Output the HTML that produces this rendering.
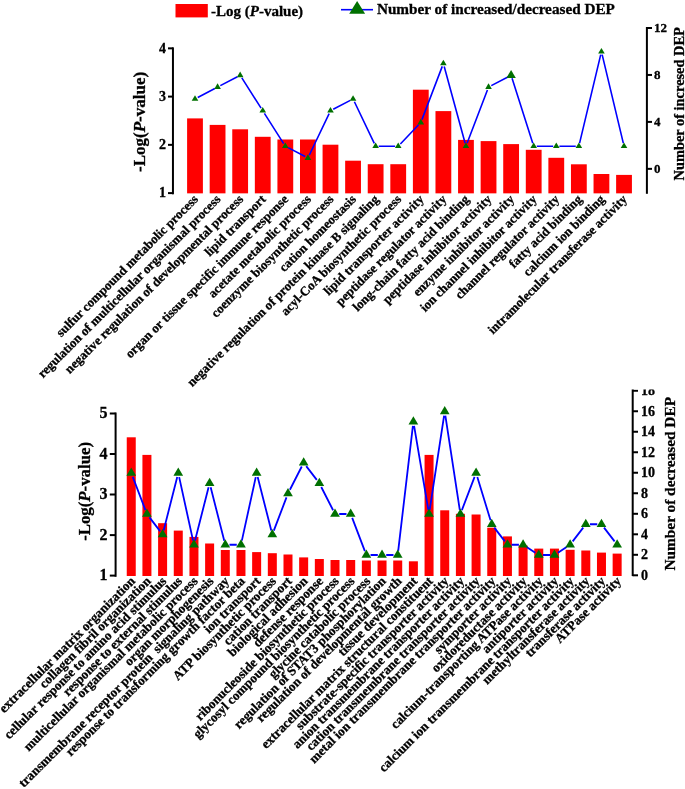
<!DOCTYPE html>
<html><head><meta charset="utf-8"><title>GO enrichment</title>
<style>html,body{margin:0;padding:0;background:#fff}body{width:685px;height:789px;overflow:hidden}svg{display:block;will-change:transform}text{font-family:"Liberation Serif",serif;font-weight:bold;fill:#000;stroke:#000;stroke-width:.3px}</style></head><body>
<svg width="685" height="789" viewBox="0 0 685 789">
<rect width="685" height="789" fill="#fff"/>
<rect x="175.5" y="4.0" width="32.3" height="13.4" fill="#ff0000"/>
<text x="211.0" y="15.8" font-size="15">-Log (<tspan font-style="italic">P</tspan>-value)</text>
<line x1="341" y1="9.7" x2="373" y2="9.7" stroke="#0000ff" stroke-width="1.6"/>
<polygon points="357.15,0.9 349.2,13.8 365.1,13.8" fill="#007000"/>
<text x="376.9" y="14.4" font-size="15.22">Number of increased/decreased DEP</text>
<g id="top">
<rect x="187.10" y="118.4" width="15.8" height="74.95" fill="#ff0000"/>
<rect x="209.68" y="124.9" width="15.8" height="68.45" fill="#ff0000"/>
<rect x="232.26" y="129.3" width="15.8" height="64.05" fill="#ff0000"/>
<rect x="254.84" y="136.8" width="15.8" height="56.55" fill="#ff0000"/>
<rect x="277.42" y="139.5" width="15.8" height="53.85" fill="#ff0000"/>
<rect x="300.00" y="139.5" width="15.8" height="53.85" fill="#ff0000"/>
<rect x="322.58" y="144.7" width="15.8" height="48.65" fill="#ff0000"/>
<rect x="345.16" y="160.7" width="15.8" height="32.65" fill="#ff0000"/>
<rect x="367.74" y="164.2" width="15.8" height="29.15" fill="#ff0000"/>
<rect x="390.32" y="164.2" width="15.8" height="29.15" fill="#ff0000"/>
<rect x="412.90" y="89.7" width="15.8" height="103.65" fill="#ff0000"/>
<rect x="435.48" y="111.1" width="15.8" height="82.25" fill="#ff0000"/>
<rect x="458.06" y="139.9" width="15.8" height="53.45" fill="#ff0000"/>
<rect x="480.64" y="141.1" width="15.8" height="52.25" fill="#ff0000"/>
<rect x="503.22" y="144.1" width="15.8" height="49.25" fill="#ff0000"/>
<rect x="525.80" y="149.8" width="15.8" height="43.55" fill="#ff0000"/>
<rect x="548.38" y="157.8" width="15.8" height="35.55" fill="#ff0000"/>
<rect x="570.96" y="164.3" width="15.8" height="29.05" fill="#ff0000"/>
<rect x="593.54" y="174.0" width="15.8" height="19.35" fill="#ff0000"/>
<rect x="616.12" y="174.9" width="15.8" height="18.45" fill="#ff0000"/>
<path fill="none" stroke="#0000ff" stroke-width="1.6" d="M197.75,97.48 L214.83,88.54 M220.33,85.66 L237.41,76.72 M241.83,77.89 L261.07,108.13 M264.41,113.35 L283.65,143.59 M288.07,147.64 L305.15,156.58 M309.24,155.22 L329.14,113.54 M333.23,109.30 L350.31,100.36 M354.40,101.72 L374.30,143.40 M378.74,146.20 L395.12,146.20 M400.36,143.96 L418.66,124.80 M421.91,119.66 L442.27,66.36 M444.20,66.45 L465.14,143.21 M467.07,143.30 L487.43,90.00 M491.29,85.66 L508.37,76.72 M512.06,78.23 L532.76,143.25 M536.80,146.20 L553.18,146.20 M559.38,146.20 L575.76,146.20 M579.58,143.18 L600.72,54.66 M602.16,54.66 L623.30,143.18"/>
<polygon points="195.00,95.19 191.70,100.79 198.30,100.79" fill="#007000"/>
<polygon points="217.58,83.37 214.28,88.97 220.88,88.97" fill="#007000"/>
<polygon points="240.16,71.55 236.86,77.15 243.46,77.15" fill="#007000"/>
<polygon points="262.74,107.01 259.44,112.61 266.04,112.61" fill="#007000"/>
<polygon points="285.32,142.47 282.02,148.07 288.62,148.07" fill="#007000"/>
<polygon points="307.90,154.29 304.60,159.89 311.20,159.89" fill="#007000"/>
<polygon points="330.48,107.01 327.18,112.61 333.78,112.61" fill="#007000"/>
<polygon points="353.06,95.19 349.76,100.79 356.36,100.79" fill="#007000"/>
<polygon points="375.64,142.47 372.34,148.07 378.94,148.07" fill="#007000"/>
<polygon points="398.22,142.47 394.92,148.07 401.52,148.07" fill="#007000"/>
<polygon points="420.80,118.83 417.50,124.43 424.10,124.43" fill="#007000"/>
<polygon points="443.38,59.73 440.08,65.33 446.68,65.33" fill="#007000"/>
<polygon points="465.96,142.47 462.66,148.07 469.26,148.07" fill="#007000"/>
<polygon points="488.54,83.37 485.24,88.97 491.84,88.97" fill="#007000"/>
<polygon points="511.12,69.95 506.42,77.95 515.82,77.95" fill="#007000"/>
<polygon points="533.70,142.47 530.40,148.07 537.00,148.07" fill="#007000"/>
<polygon points="556.28,142.47 552.98,148.07 559.58,148.07" fill="#007000"/>
<polygon points="578.86,142.47 575.56,148.07 582.16,148.07" fill="#007000"/>
<polygon points="601.44,47.91 598.14,53.51 604.74,53.51" fill="#007000"/>
<polygon points="624.02,142.47 620.72,148.07 627.32,148.07" fill="#007000"/>
<path d="M172.95,47.35 V194.3" stroke="#000" stroke-width="2" fill="none"/>
<line x1="168" y1="48.35" x2="172.95" y2="48.35" stroke="#000" stroke-width="2"/>
<text x="166.0" y="52.65" font-size="14" text-anchor="end">4</text>
<line x1="168" y1="96.60" x2="172.95" y2="96.60" stroke="#000" stroke-width="2"/>
<text x="166.0" y="100.90" font-size="14" text-anchor="end">3</text>
<line x1="168" y1="144.85" x2="172.95" y2="144.85" stroke="#000" stroke-width="2"/>
<text x="166.0" y="149.15" font-size="14" text-anchor="end">2</text>
<line x1="168" y1="193.10" x2="172.95" y2="193.10" stroke="#000" stroke-width="2"/>
<text x="166.0" y="197.40" font-size="14" text-anchor="end">1</text>
<text transform="translate(145.3,121.9) rotate(-90)" font-size="17" text-anchor="middle">-Log(<tspan font-style="italic">P</tspan>-value)</text>
<path d="M646.9,27.0 V193.8" stroke="#000" stroke-width="2" fill="none"/>
<line x1="646.9" y1="28.00" x2="652" y2="28.00" stroke="#000" stroke-width="2"/>
<text x="654.0" y="32.20" font-size="13">12</text>
<line x1="646.9" y1="74.95" x2="652" y2="74.95" stroke="#000" stroke-width="2"/>
<text x="654.0" y="79.15" font-size="13">8</text>
<line x1="646.9" y1="121.90" x2="652" y2="121.90" stroke="#000" stroke-width="2"/>
<text x="654.0" y="126.10" font-size="13">4</text>
<line x1="646.9" y1="168.85" x2="652" y2="168.85" stroke="#000" stroke-width="2"/>
<text x="654.0" y="173.05" font-size="13">0</text>
<text transform="translate(683.8,103.8) rotate(-90)" font-size="14.4" text-anchor="middle">Number of incresed DEP</text>
<text transform="translate(196.00,197.2) rotate(-45)" y="4.0" font-size="12.88" text-anchor="end">sulfur compound metabolic process</text>
<text transform="translate(218.58,197.2) rotate(-45)" y="4.0" font-size="12.88" text-anchor="end">regulation of multicellular organismal process</text>
<text transform="translate(241.16,197.2) rotate(-45)" y="4.0" font-size="12.88" text-anchor="end">negative regulation of developmental process</text>
<text transform="translate(263.74,197.2) rotate(-45)" y="4.0" font-size="12.88" text-anchor="end">lipid transport</text>
<text transform="translate(286.32,197.2) rotate(-45)" y="4.0" font-size="12.88" text-anchor="end">organ or tissue specific immune response</text>
<text transform="translate(308.90,197.2) rotate(-45)" y="4.0" font-size="12.88" text-anchor="end">acetate metabolic process</text>
<text transform="translate(331.48,197.2) rotate(-45)" y="4.0" font-size="12.88" text-anchor="end">coenzyme biosynthetic process</text>
<text transform="translate(354.06,197.2) rotate(-45)" y="4.0" font-size="12.88" text-anchor="end">cation homeostasis</text>
<text transform="translate(376.64,197.2) rotate(-45)" y="4.0" font-size="12.88" text-anchor="end">negative regulation of protein kinase B signaling</text>
<text transform="translate(399.22,197.2) rotate(-45)" y="4.0" font-size="12.88" text-anchor="end">acyl-CoA biosynthetic process</text>
<text transform="translate(421.80,197.2) rotate(-45)" y="4.0" font-size="12.88" text-anchor="end">lipid transporter activity</text>
<text transform="translate(444.38,197.2) rotate(-45)" y="4.0" font-size="12.88" text-anchor="end">peptidase regulator activity</text>
<text transform="translate(466.96,197.2) rotate(-45)" y="4.0" font-size="12.88" text-anchor="end">long-chain fatty acid binding</text>
<text transform="translate(489.54,197.2) rotate(-45)" y="4.0" font-size="12.88" text-anchor="end">peptidase inhibitor activity</text>
<text transform="translate(512.12,197.2) rotate(-45)" y="4.0" font-size="12.88" text-anchor="end">enzyme inhibitor activity</text>
<text transform="translate(534.70,197.2) rotate(-45)" y="4.0" font-size="12.88" text-anchor="end">ion channel inhibitor activity</text>
<text transform="translate(557.28,197.2) rotate(-45)" y="4.0" font-size="12.88" text-anchor="end">channel regulator activity</text>
<text transform="translate(579.86,197.2) rotate(-45)" y="4.0" font-size="12.88" text-anchor="end">fatty acid binding</text>
<text transform="translate(602.44,197.2) rotate(-45)" y="4.0" font-size="12.88" text-anchor="end">calcium ion binding</text>
<text transform="translate(625.02,197.2) rotate(-45)" y="4.0" font-size="12.88" text-anchor="end">intramolecular transferase activity</text>
</g>
<defs><clipPath id="bc"><rect x="0" y="389.6" width="685" height="400"/></clipPath></defs>
<g id="bottom" clip-path="url(#bc)">
<rect x="126.75" y="437.3" width="9.0" height="138.70" fill="#ff0000"/>
<rect x="142.42" y="454.9" width="9.0" height="121.10" fill="#ff0000"/>
<rect x="158.10" y="523.2" width="9.0" height="52.80" fill="#ff0000"/>
<rect x="173.77" y="530.6" width="9.0" height="45.40" fill="#ff0000"/>
<rect x="189.45" y="536.9" width="9.0" height="39.10" fill="#ff0000"/>
<rect x="205.12" y="543.5" width="9.0" height="32.50" fill="#ff0000"/>
<rect x="220.79" y="550" width="9.0" height="26.00" fill="#ff0000"/>
<rect x="236.47" y="550" width="9.0" height="26.00" fill="#ff0000"/>
<rect x="252.14" y="552.1" width="9.0" height="23.90" fill="#ff0000"/>
<rect x="267.82" y="553.2" width="9.0" height="22.80" fill="#ff0000"/>
<rect x="283.49" y="554.5" width="9.0" height="21.50" fill="#ff0000"/>
<rect x="299.16" y="557.4" width="9.0" height="18.60" fill="#ff0000"/>
<rect x="314.84" y="559" width="9.0" height="17.00" fill="#ff0000"/>
<rect x="330.51" y="560" width="9.0" height="16.00" fill="#ff0000"/>
<rect x="346.19" y="560" width="9.0" height="16.00" fill="#ff0000"/>
<rect x="361.86" y="560.5" width="9.0" height="15.50" fill="#ff0000"/>
<rect x="377.53" y="560.5" width="9.0" height="15.50" fill="#ff0000"/>
<rect x="393.21" y="560.5" width="9.0" height="15.50" fill="#ff0000"/>
<rect x="408.88" y="561.3" width="9.0" height="14.70" fill="#ff0000"/>
<rect x="424.56" y="454.9" width="9.0" height="121.10" fill="#ff0000"/>
<rect x="440.23" y="510.3" width="9.0" height="65.70" fill="#ff0000"/>
<rect x="455.90" y="513.8" width="9.0" height="62.20" fill="#ff0000"/>
<rect x="471.58" y="514.5" width="9.0" height="61.50" fill="#ff0000"/>
<rect x="487.25" y="527.7" width="9.0" height="48.30" fill="#ff0000"/>
<rect x="502.93" y="536.4" width="9.0" height="39.60" fill="#ff0000"/>
<rect x="518.60" y="545.5" width="9.0" height="30.50" fill="#ff0000"/>
<rect x="534.27" y="548.6" width="9.0" height="27.40" fill="#ff0000"/>
<rect x="549.95" y="548.6" width="9.0" height="27.40" fill="#ff0000"/>
<rect x="565.62" y="549.8" width="9.0" height="26.20" fill="#ff0000"/>
<rect x="581.30" y="550.5" width="9.0" height="25.50" fill="#ff0000"/>
<rect x="596.97" y="552.6" width="9.0" height="23.40" fill="#ff0000"/>
<rect x="612.64" y="553.6" width="9.0" height="22.40" fill="#ff0000"/>
<path fill="none" stroke="#0000ff" stroke-width="1.8" d="M132.75,476.92 L145.42,510.08 M149.48,517.34 L160.05,531.16 M163.64,530.43 L177.23,477.07 M179.17,477.10 L193.05,540.65 M194.98,540.68 L208.58,487.32 M210.66,487.32 L224.26,540.68 M229.49,544.75 L236.77,544.75 M241.86,540.65 L255.75,477.10 M257.68,477.07 L271.28,530.43 M273.82,530.58 L286.49,497.42 M289.90,489.76 L301.76,466.49 M306.22,466.09 L316.79,479.91 M321.25,486.99 L333.10,510.26 M339.21,514.00 L346.49,514.00 M352.19,517.92 L364.86,551.08 M370.56,555.00 L377.83,555.00 M386.23,555.00 L393.51,555.00 M398.20,550.83 L412.89,425.92 M414.09,425.89 L428.35,509.86 M429.69,509.85 L444.10,415.65 M445.36,415.65 L459.77,509.85 M461.90,510.08 L474.58,476.92 M477.31,477.02 L490.52,520.23 M494.30,527.59 L504.87,541.41 M511.63,544.75 L518.90,544.75 M526.62,547.05 L535.26,552.70 M542.97,555.00 L550.25,555.00 M557.96,552.70 L566.61,547.05 M572.67,541.41 L583.24,527.59 M590.00,524.25 L597.27,524.25 M604.02,527.59 L614.59,541.41"/>
<polygon points="131.25,467.40 126.40,475.80 136.10,475.80" fill="#007000"/>
<polygon points="146.92,508.40 142.07,516.80 151.77,516.80" fill="#007000"/>
<polygon points="162.60,528.90 157.75,537.30 167.45,537.30" fill="#007000"/>
<polygon points="178.27,467.40 173.42,475.80 183.12,475.80" fill="#007000"/>
<polygon points="193.95,539.15 189.10,547.55 198.80,547.55" fill="#007000"/>
<polygon points="209.62,477.65 204.77,486.05 214.47,486.05" fill="#007000"/>
<polygon points="225.29,539.15 220.44,547.55 230.14,547.55" fill="#007000"/>
<polygon points="240.97,539.15 236.12,547.55 245.82,547.55" fill="#007000"/>
<polygon points="256.64,467.40 251.79,475.80 261.49,475.80" fill="#007000"/>
<polygon points="272.32,528.90 267.47,537.30 277.17,537.30" fill="#007000"/>
<polygon points="287.99,487.90 283.14,496.30 292.84,496.30" fill="#007000"/>
<polygon points="303.66,457.15 298.81,465.55 308.51,465.55" fill="#007000"/>
<polygon points="319.34,477.65 314.49,486.05 324.19,486.05" fill="#007000"/>
<polygon points="335.01,508.40 330.16,516.80 339.86,516.80" fill="#007000"/>
<polygon points="350.69,508.40 345.84,516.80 355.54,516.80" fill="#007000"/>
<polygon points="366.36,549.40 361.51,557.80 371.21,557.80" fill="#007000"/>
<polygon points="382.03,549.40 377.18,557.80 386.88,557.80" fill="#007000"/>
<polygon points="397.71,549.40 392.86,557.80 402.56,557.80" fill="#007000"/>
<polygon points="413.38,416.15 408.53,424.55 418.23,424.55" fill="#007000"/>
<polygon points="429.06,508.40 424.21,516.80 433.91,516.80" fill="#007000"/>
<polygon points="444.73,405.90 439.88,414.30 449.58,414.30" fill="#007000"/>
<polygon points="460.40,508.40 455.55,516.80 465.25,516.80" fill="#007000"/>
<polygon points="476.08,467.40 471.23,475.80 480.93,475.80" fill="#007000"/>
<polygon points="491.75,518.65 486.90,527.05 496.60,527.05" fill="#007000"/>
<polygon points="507.43,539.15 502.58,547.55 512.28,547.55" fill="#007000"/>
<polygon points="523.10,539.15 518.25,547.55 527.95,547.55" fill="#007000"/>
<polygon points="538.77,549.40 533.92,557.80 543.62,557.80" fill="#007000"/>
<polygon points="554.45,549.40 549.60,557.80 559.30,557.80" fill="#007000"/>
<polygon points="570.12,539.15 565.27,547.55 574.97,547.55" fill="#007000"/>
<polygon points="585.80,518.65 580.95,527.05 590.65,527.05" fill="#007000"/>
<polygon points="601.47,518.65 596.62,527.05 606.32,527.05" fill="#007000"/>
<polygon points="617.14,539.15 612.29,547.55 621.99,547.55" fill="#007000"/>
<path d="M115.6,412.6 V576.8" stroke="#000" stroke-width="2" fill="none"/>
<line x1="109.8" y1="413.60" x2="115.6" y2="413.60" stroke="#000" stroke-width="2"/>
<text x="107.6" y="418.30" font-size="16" text-anchor="end">5</text>
<line x1="109.8" y1="454.10" x2="115.6" y2="454.10" stroke="#000" stroke-width="2"/>
<text x="107.6" y="458.80" font-size="16" text-anchor="end">4</text>
<line x1="109.8" y1="494.60" x2="115.6" y2="494.60" stroke="#000" stroke-width="2"/>
<text x="107.6" y="499.30" font-size="16" text-anchor="end">3</text>
<line x1="109.8" y1="535.10" x2="115.6" y2="535.10" stroke="#000" stroke-width="2"/>
<text x="107.6" y="539.80" font-size="16" text-anchor="end">2</text>
<line x1="109.8" y1="575.60" x2="115.6" y2="575.60" stroke="#000" stroke-width="2"/>
<text x="107.6" y="580.30" font-size="16" text-anchor="end">1</text>
<text transform="translate(89.7,491.4) rotate(-90)" font-size="16.8" text-anchor="middle">-Log(<tspan font-style="italic">P</tspan>-value)</text>
<path d="M632.7,385 V576.1" stroke="#000" stroke-width="2" fill="none"/>
<line x1="632.7" y1="390.80" x2="638" y2="390.80" stroke="#000" stroke-width="2"/>
<text x="641" y="395.10" font-size="14">18</text>
<line x1="632.7" y1="411.30" x2="638" y2="411.30" stroke="#000" stroke-width="2"/>
<text x="641" y="415.60" font-size="14">16</text>
<line x1="632.7" y1="431.80" x2="638" y2="431.80" stroke="#000" stroke-width="2"/>
<text x="641" y="436.10" font-size="14">14</text>
<line x1="632.7" y1="452.30" x2="638" y2="452.30" stroke="#000" stroke-width="2"/>
<text x="641" y="456.60" font-size="14">12</text>
<line x1="632.7" y1="472.80" x2="638" y2="472.80" stroke="#000" stroke-width="2"/>
<text x="641" y="477.10" font-size="14">10</text>
<line x1="632.7" y1="493.30" x2="638" y2="493.30" stroke="#000" stroke-width="2"/>
<text x="641" y="497.60" font-size="14">8</text>
<line x1="632.7" y1="513.80" x2="638" y2="513.80" stroke="#000" stroke-width="2"/>
<text x="641" y="518.10" font-size="14">6</text>
<line x1="632.7" y1="534.30" x2="638" y2="534.30" stroke="#000" stroke-width="2"/>
<text x="641" y="538.60" font-size="14">4</text>
<line x1="632.7" y1="554.80" x2="638" y2="554.80" stroke="#000" stroke-width="2"/>
<text x="641" y="559.10" font-size="14">2</text>
<line x1="632.7" y1="575.30" x2="638" y2="575.30" stroke="#000" stroke-width="2"/>
<text x="641" y="579.60" font-size="14">0</text>
<text transform="translate(675,483.75) rotate(-90)" font-size="15.33" text-anchor="middle">Number of decreased DEP</text>
<text transform="translate(133.05,579.0) rotate(-45)" y="4.0" font-size="13.12" text-anchor="end">extracellular matrix organization</text>
<text transform="translate(148.72,579.0) rotate(-45)" y="4.0" font-size="13.12" text-anchor="end">collagen fibril organization</text>
<text transform="translate(164.40,579.0) rotate(-45)" y="4.0" font-size="13.12" text-anchor="end">cellular response to amino acid stimulus</text>
<text transform="translate(180.07,579.0) rotate(-45)" y="4.0" font-size="13.12" text-anchor="end">response to external stimulus</text>
<text transform="translate(195.75,579.0) rotate(-45)" y="4.0" font-size="13.12" text-anchor="end">multicellular organismal metabolic process</text>
<text transform="translate(211.42,579.0) rotate(-45)" y="4.0" font-size="13.12" text-anchor="end">organ morphogenesis</text>
<text transform="translate(227.09,579.0) rotate(-45)" y="4.0" font-size="13.12" text-anchor="end">transmembrane receptor protein&#160; signaling pathway</text>
<text transform="translate(242.77,579.0) rotate(-45)" y="4.0" font-size="13.12" text-anchor="end">response to transforming growth factor beta</text>
<text transform="translate(258.44,579.0) rotate(-45)" y="4.0" font-size="13.12" text-anchor="end">ion transport</text>
<text transform="translate(274.12,579.0) rotate(-45)" y="4.0" font-size="13.12" text-anchor="end">ATP biosynthetic process</text>
<text transform="translate(289.79,579.0) rotate(-45)" y="4.0" font-size="13.12" text-anchor="end">cation transport</text>
<text transform="translate(305.46,579.0) rotate(-45)" y="4.0" font-size="13.12" text-anchor="end">biological adhesion</text>
<text transform="translate(321.14,579.0) rotate(-45)" y="4.0" font-size="13.12" text-anchor="end">defense response</text>
<text transform="translate(336.81,579.0) rotate(-45)" y="4.0" font-size="13.12" text-anchor="end">ribonucleoside biosynthetic process</text>
<text transform="translate(352.49,579.0) rotate(-45)" y="4.0" font-size="13.12" text-anchor="end">glycosyl compound biosynthetic process</text>
<text transform="translate(368.16,579.0) rotate(-45)" y="4.0" font-size="13.12" text-anchor="end">glycine catabolic process</text>
<text transform="translate(383.83,579.0) rotate(-45)" y="4.0" font-size="13.12" text-anchor="end">regulation of STAT3 phosphorylation</text>
<text transform="translate(399.51,579.0) rotate(-45)" y="4.0" font-size="13.12" text-anchor="end">regulation of developmental growth</text>
<text transform="translate(415.18,579.0) rotate(-45)" y="4.0" font-size="13.12" text-anchor="end">tissue development</text>
<text transform="translate(430.86,579.0) rotate(-45)" y="4.0" font-size="13.12" text-anchor="end">extracellular matrix structural constituent</text>
<text transform="translate(446.53,579.0) rotate(-45)" y="4.0" font-size="13.12" text-anchor="end">substrate-specific transporter activity</text>
<text transform="translate(462.20,579.0) rotate(-45)" y="4.0" font-size="13.12" text-anchor="end">anion transmembrane transporter activity</text>
<text transform="translate(477.88,579.0) rotate(-45)" y="4.0" font-size="13.12" text-anchor="end">cation transmembrane transporter activity</text>
<text transform="translate(493.55,579.0) rotate(-45)" y="4.0" font-size="13.12" text-anchor="end">metal ion transmembrane transporter activity</text>
<text transform="translate(509.23,579.0) rotate(-45)" y="4.0" font-size="13.12" text-anchor="end">symporter activity</text>
<text transform="translate(524.90,579.0) rotate(-45)" y="4.0" font-size="13.12" text-anchor="end">oxidoreductase activity</text>
<text transform="translate(540.57,579.0) rotate(-45)" y="4.0" font-size="13.12" text-anchor="end">calcium-transporting ATPase activity</text>
<text transform="translate(556.25,579.0) rotate(-45)" y="4.0" font-size="13.12" text-anchor="end">antiporter activity</text>
<text transform="translate(571.92,579.0) rotate(-45)" y="4.0" font-size="13.12" text-anchor="end">calcium ion transmembrane transporter activity</text>
<text transform="translate(587.60,579.0) rotate(-45)" y="4.0" font-size="13.12" text-anchor="end">methyltransferase activity</text>
<text transform="translate(603.27,579.0) rotate(-45)" y="4.0" font-size="13.12" text-anchor="end">transferase activity</text>
<text transform="translate(618.94,579.0) rotate(-45)" y="4.0" font-size="13.12" text-anchor="end">ATPase activity</text>
</g>
</svg></body></html>
